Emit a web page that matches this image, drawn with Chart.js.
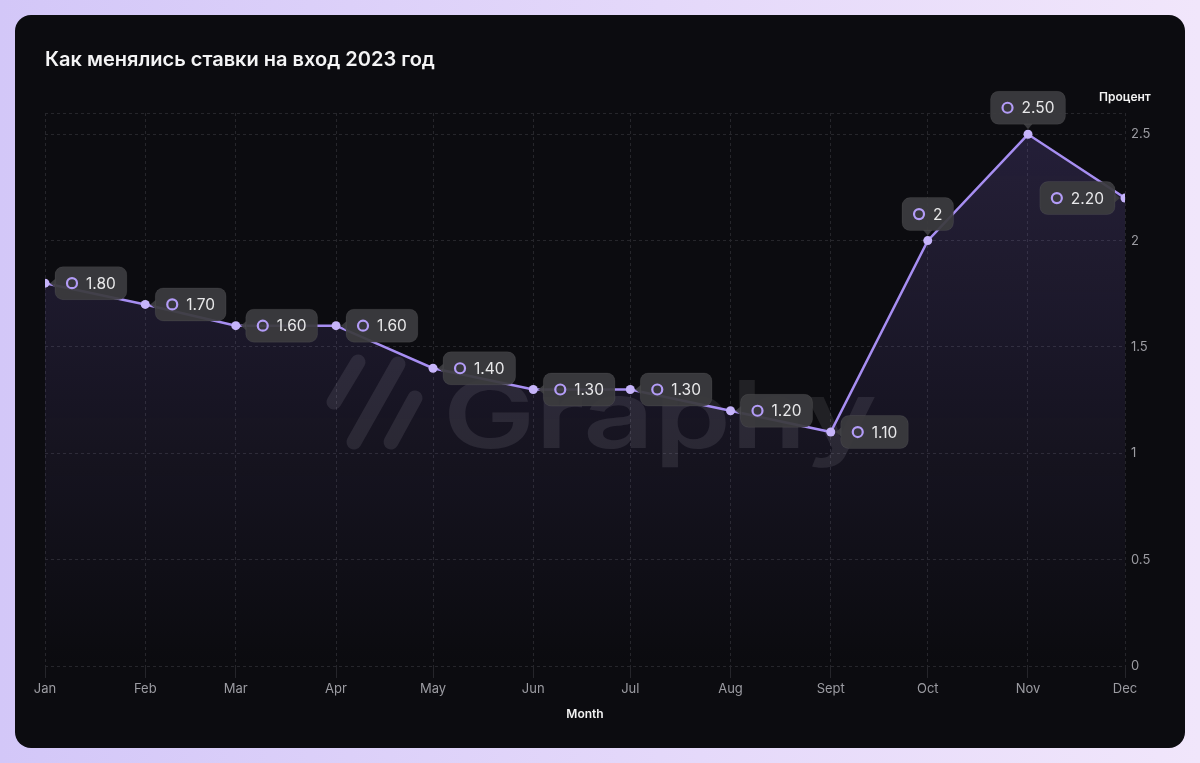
<!DOCTYPE html>
<html>
<head>
<meta charset="utf-8">
<script src="https://cdn.jsdelivr.net/npm/chart.js@4.4.1/dist/chart.umd.min.js"></script>
<style>
  html, body { margin: 0; padding: 0; }
  body {
    width: 1200px; height: 763px; overflow: hidden;
    background: linear-gradient(90deg, #d3c7f8 0%, #e4d8fa 55%, #f1e6fb 100%);
    font-family: Inter, "Noto Sans", sans-serif;
  }
  #card {
    position: absolute; left: 15px; top: 15px;
    width: 1170px; height: 733px;
    background: #0c0c10; border-radius: 16px; overflow: hidden;
  }
  canvas { display: block; }
</style>
</head>
<body>
<div id="card"><canvas id="grafico" width="1170" height="733"></canvas></div>
<script>
// dados do grafico
const titulo = 'Как менялись ставки на вход 2023 год';
const meses = ['Jan', 'Feb', 'Mar', 'Apr', 'May', 'Jun', 'Jul', 'Aug', 'Sept', 'Oct', 'Nov', 'Dec'];
// dia do ano em que cada mes comeca (eixo x é por data)
const diaDoAno = [0, 31, 59, 90, 120, 151, 181, 212, 243, 273, 304, 334];
const taxas = [1.8, 1.7, 1.6, 1.6, 1.4, 1.3, 1.3, 1.2, 1.1, 2, 2.5, 2.2];
const ticksY = [0, 0.5, 1, 1.5, 2, 2.5];
const tituloY = 'Процент';
const tituloX = 'Month';

// onde fica a caixinha de cada valor (padrao: direita)
const ladoCaixa = { 9: 'top', 10: 'top', 11: 'left' };

function formatar(v) {
  return Number.isInteger(v) ? String(v) : v.toFixed(2);
}

// marca d'agua "Graphy" no fundo
const marcaDagua = {
  id: 'marcaDagua',
  beforeDatasetsDraw(chart) {
    const ctx = chart.ctx;
    ctx.save();
    ctx.fillStyle = 'rgba(255,255,255,0.09)';
    ctx.strokeStyle = 'rgba(255,255,255,0.09)';
    ctx.font = '600 94px Inter';
    const w1 = ctx.measureText('Graphy').width;
    // esticar na horizontal pra ficar igual
    ctx.translate(443 - 15, 448 - 15);
    ctx.scale(434 / w1, 1);
    ctx.textBaseline = 'alphabetic';
    ctx.fillText('Graphy', 0, 0);
    ctx.restore();
    ctx.save();
    ctx.strokeStyle = 'rgba(255,255,255,0.09)';
    ctx.lineCap = 'round';
    ctx.lineWidth = 15;
    const barras = [[358, 362, 334, 402], [398, 364, 354, 442], [415, 398, 391, 442]];
    barras.forEach(b => {
      ctx.beginPath();
      ctx.moveTo(b[0] - 15, b[1] - 15);
      ctx.lineTo(b[2] - 15, b[3] - 15);
      ctx.stroke();
    });
    ctx.restore();
  }
};

// caixinhas com os valores
const caixas = {
  id: 'caixas',
  afterDatasetsDraw(chart) {
    const ctx = chart.ctx;
    const meta = chart.getDatasetMeta(0);
    ctx.save();
    ctx.font = '400 15.5px Inter';
    meta.data.forEach((pt, i) => {
      const txt = formatar(taxas[i]);
      const tw = ctx.measureText(txt).width;
      const w = 31 + tw + 11;
      const h = 33;
      const lado = ladoCaixa[i] || 'right';
      let bx, by;
      ctx.fillStyle = 'rgba(60,60,63,0.94)';
      ctx.beginPath();
      if (lado === 'right') {
        bx = pt.x + 10; by = pt.y - h / 2;
        ctx.moveTo(bx + 1, pt.y - 5); ctx.lineTo(pt.x + 5, pt.y); ctx.lineTo(bx + 1, pt.y + 5);
      } else if (lado === 'left') {
        bx = pt.x - 10 - w; by = pt.y - h / 2;
        ctx.moveTo(bx + w - 1, pt.y - 5); ctx.lineTo(pt.x - 5, pt.y); ctx.lineTo(bx + w - 1, pt.y + 5);
      } else {
        bx = pt.x - w / 2; by = pt.y - 10 - h;
        ctx.moveTo(pt.x - 5, by + h - 1); ctx.lineTo(pt.x, pt.y - 5); ctx.lineTo(pt.x + 5, by + h - 1);
      }
      ctx.closePath();
      ctx.fill();
      ctx.beginPath();
      ctx.roundRect(bx, by, w, h, 8);
      ctx.fill();
      ctx.strokeStyle = 'rgba(255,255,255,0.06)';
      ctx.lineWidth = 1;
      ctx.stroke();
      // bolinha
      ctx.beginPath();
      ctx.arc(bx + 17, by + h / 2, 5, 0, Math.PI * 2);
      ctx.strokeStyle = '#b39cf7';
      ctx.lineWidth = 2.2;
      ctx.stroke();
      ctx.fillStyle = '#e8e8ea';
      ctx.textBaseline = 'middle';
      ctx.textAlign = 'left';
      ctx.fillText(txt, bx + 31, by + h / 2 + 1);
    });
    // titulo do eixo y la em cima
    ctx.font = '600 12px Inter';
    ctx.fillStyle = '#f2f2f2';
    ctx.textBaseline = 'middle';
    ctx.fillText(tituloY, 1084, 82);
    ctx.restore();
  }
};

let pontos = taxas.map((t, i) => ({ x: diaDoAno[i], y: t }));

let ctx = document.getElementById('grafico');
let grafico = new Chart(ctx, {
  type: 'line',
  data: {
    datasets: [{
      label: 'Процент',
      data: pontos,
      borderColor: '#a78ef2',
      borderWidth: 2.5,
      pointRadius: 4.5,
      pointBackgroundColor: '#c6b4fa',
      pointBorderWidth: 0,
      fill: 'origin',
      tension: 0,
      backgroundColor: (c) => {
        const area = c.chart.chartArea;
        if (!area) return 'rgba(150,120,240,0.1)';
        const g = c.chart.ctx.createLinearGradient(0, area.top, 0, area.bottom);
        g.addColorStop(0, 'rgba(150,120,240,0.19)');
        g.addColorStop(1, 'rgba(150,120,240,0)');
        return g;
      }
    }]
  },
  options: {
    responsive: false,
    animation: false,
    devicePixelRatio: 1,
    layout: { padding: { left: 30, right: 0, top: 0, bottom: 0 } },
    plugins: {
      legend: { display: false },
      tooltip: { enabled: false },
      title: {
        display: true,
        text: titulo,
        align: 'start',
        color: '#f4f4f5',
        font: { family: 'Inter', size: 20, weight: '600' },
        padding: { top: 33, bottom: 41 }
      }
    },
    scales: {
      x: {
        type: 'linear',
        min: diaDoAno[0],
        max: diaDoAno[diaDoAno.length - 1],
        afterBuildTicks: (axis) => { axis.ticks = diaDoAno.map(v => ({ value: v })); },
        afterFit: (axis) => { axis.height = 82; },
        ticks: {
          autoSkip: false,
          maxRotation: 0,
          padding: 3,
          color: '#9c9ca2',
          font: { family: 'Inter', size: 13 },
          callback: (v) => meses[diaDoAno.indexOf(v)]
        },
        grid: { color: '#26262b', tickLength: 12, lineWidth: 1 },
        border: { display: false, dash: [3, 3] },
        title: {
          display: true,
          text: tituloX,
          color: '#f2f2f2',
          font: { family: 'Inter', size: 12, weight: '600' },
          padding: { top: 4, bottom: 26 }
        }
      },
      y: {
        position: 'right',
        min: 0,
        max: 2.6,
        afterBuildTicks: (axis) => { axis.ticks = ticksY.concat([2.6]).map(v => ({ value: v })); },
        afterFit: (axis) => { axis.width = 60; },
        ticks: {
          padding: 6,
          color: '#9c9ca2',
          font: { family: 'Inter', size: 13 },
          callback: (v) => ticksY.includes(v) ? String(v) : ''
        },
        grid: { color: '#26262b', drawTicks: false, lineWidth: 1 },
        border: { display: false, dash: [3, 3] }
      }
    }
  },
  plugins: [marcaDagua, caixas]
});
</script>
</body>
</html>
